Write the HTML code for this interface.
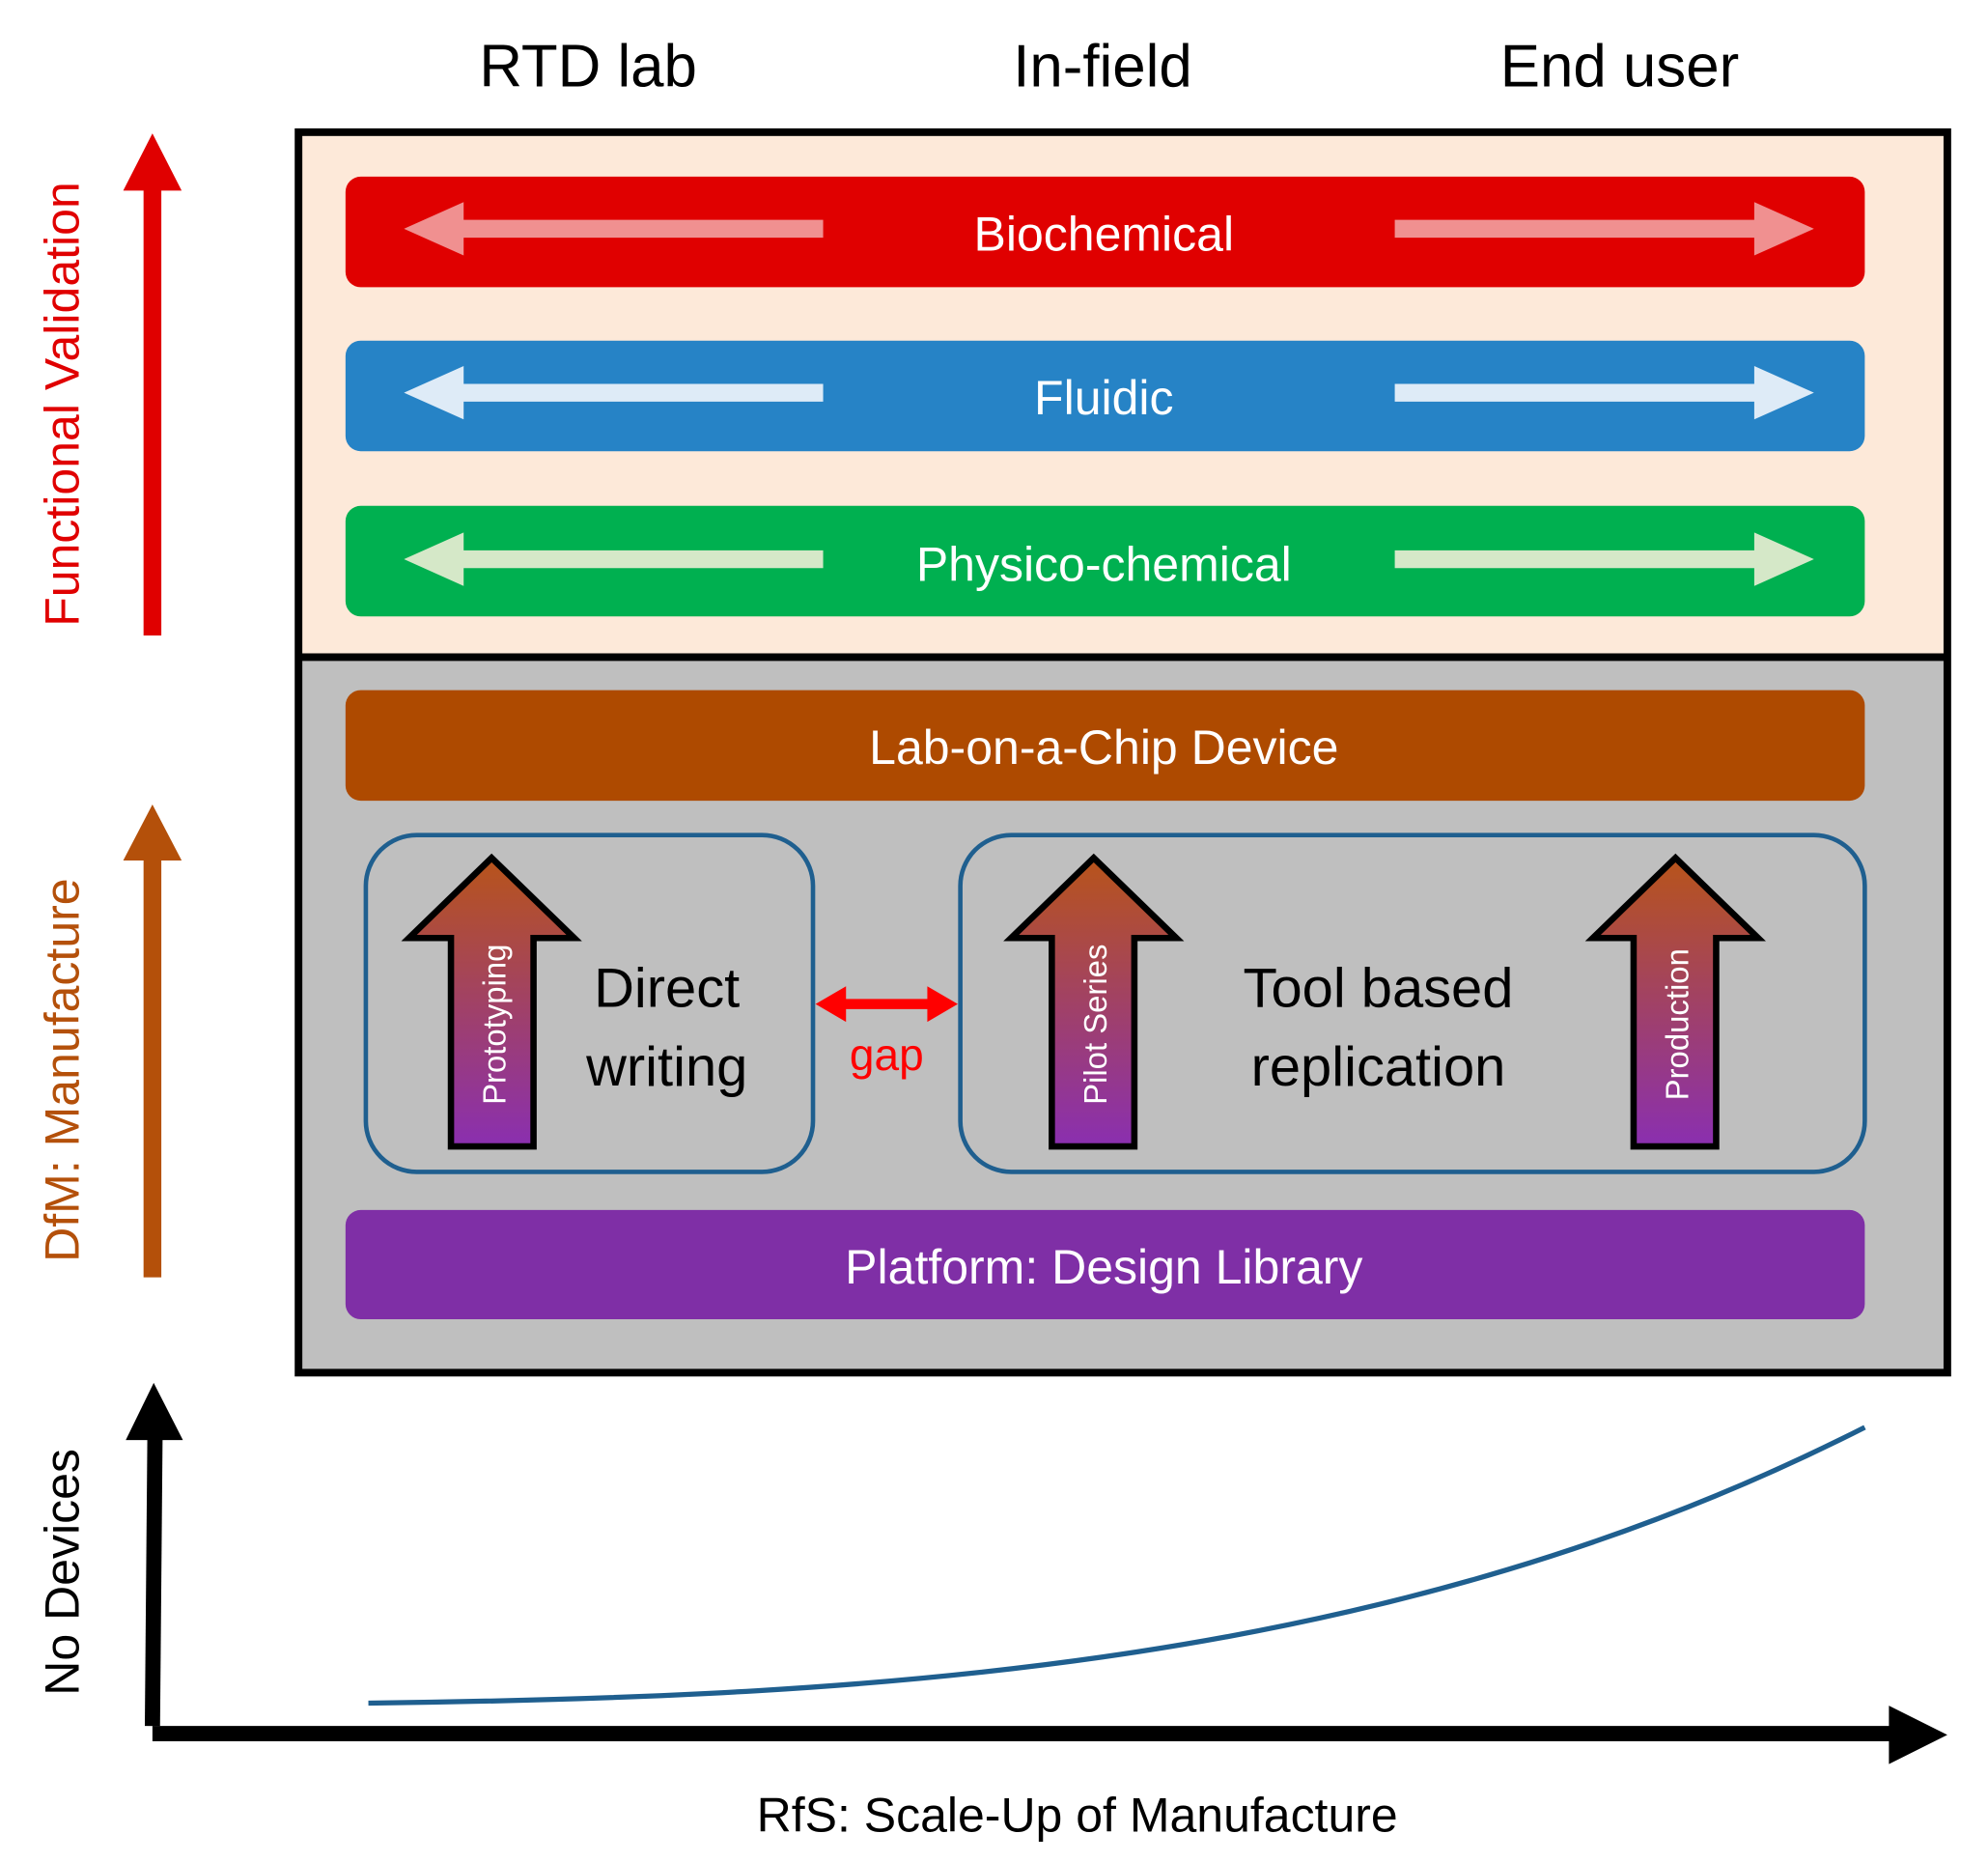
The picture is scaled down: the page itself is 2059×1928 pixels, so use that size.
<!DOCTYPE html>
<html><head><meta charset="utf-8"><style>
html,body{margin:0;padding:0;background:#fff;}
svg{display:block;}
text{font-family:"Liberation Sans",sans-serif;}
</style></head><body>
<svg width="2059" height="1928" viewBox="0 0 1565 1465" preserveAspectRatio="none" xmlns="http://www.w3.org/2000/svg">
<defs>
<linearGradient id="g" x1="0" y1="0" x2="0" y2="1">
<stop offset="0" stop-color="#b8541a"/><stop offset="1" stop-color="#8a2fb0"/>
</linearGradient>
</defs>
<g font-size="47" fill="#000" text-anchor="middle">
<text x="463" y="68">RTD lab</text>
<text x="868" y="68">In-field</text>
<text x="1275" y="68">End user</text>
</g>
<rect x="235" y="104" width="1298" height="413" fill="#fde9d9"/>
<rect x="235" y="517" width="1298" height="563" fill="#bfbfbf"/>
<rect x="235" y="104" width="1298" height="976" fill="none" stroke="#000" stroke-width="6"/>
<line x1="235" y1="517" x2="1533" y2="517" stroke="#000" stroke-width="6"/>
<rect x="272" y="139" width="1196" height="87" rx="12" fill="#e00000"/>
<rect x="272" y="268" width="1196" height="87" rx="12" fill="#2683c6"/>
<rect x="272" y="398" width="1196" height="87" rx="12" fill="#00b050"/>
<rect x="272" y="543" width="1196" height="87" rx="12" fill="#ae4a00"/>
<rect x="272" y="952" width="1196" height="86" rx="12" fill="#7f2fa6"/>
<g>
<path d="M648,173 L365,173 L365,159 L318,180 L365,201 L365,187 L648,187 Z" fill="#f09090"/>
<path d="M1098,173 L1381,173 L1381,159 L1428,180 L1381,201 L1381,187 L1098,187 Z" fill="#f09090"/>
<path d="M648,302 L365,302 L365,288 L318,309 L365,330 L365,316 L648,316 Z" fill="#deebf7"/>
<path d="M1098,302 L1381,302 L1381,288 L1428,309 L1381,330 L1381,316 L1098,316 Z" fill="#deebf7"/>
<path d="M648,433 L365,433 L365,419 L318,440 L365,461 L365,447 L648,447 Z" fill="#d5e8c8"/>
<path d="M1098,433 L1381,433 L1381,419 L1428,440 L1381,461 L1381,447 L1098,447 Z" fill="#d5e8c8"/>
</g>
<g font-size="38" fill="#fff" text-anchor="middle">
<text x="869" y="197">Biochemical</text>
<text x="869" y="326">Fluidic</text>
<text x="869" y="457">Physico-chemical</text>
<text x="869" y="601">Lab-on-a-Chip Device</text>
<text x="869" y="1010">Platform: Design Library</text>
</g>
<rect x="288" y="657" width="352" height="265" rx="40" fill="none" stroke="#1f5f8f" stroke-width="3.5"/>
<rect x="756" y="657" width="712" height="265" rx="40" fill="none" stroke="#1f5f8f" stroke-width="3.5"/>
<path d="M355,902 L355,738 L322,738 L387,675 L452,738 L420,738 L420,902 Z" fill="url(#g)" stroke="#000" stroke-width="5"/>
<path d="M828,902 L828,738 L796,738 L861,675 L926,738 L893,738 L893,902 Z" fill="url(#g)" stroke="#000" stroke-width="5"/>
<path d="M1286,902 L1286,738 L1254,738 L1319,675 L1384,738 L1351,738 L1351,902 Z" fill="url(#g)" stroke="#000" stroke-width="5"/>
<g font-size="25" fill="#fff" text-anchor="middle">
<text transform="translate(398,806) rotate(-90)">Prototyping</text>
<text transform="translate(871,806) rotate(-90)">Pilot Series</text>
<text transform="translate(1329,806) rotate(-90)">Production</text>
</g>
<g font-size="44" fill="#000" text-anchor="middle">
<text x="525" y="792">Direct</text>
<text x="525" y="854">writing</text>
<text x="1085" y="792">Tool based</text>
<text x="1085" y="854">replication</text>
</g>
<path d="M642,790 L666,776 L666,786 L730,786 L730,776 L754,790 L730,804 L730,794 L666,794 L666,804 Z" fill="#ff0000"/>
<text x="698" y="842" font-size="35" fill="#ff0000" text-anchor="middle">gap</text>
<rect x="113" y="148" width="14" height="352" fill="#e00000"/>
<path d="M97,150 L120,105 L143,150 Z" fill="#e00000"/>
<rect x="113" y="675" width="14" height="330" fill="#b4500a"/>
<path d="M97,677 L120,633 L143,677 Z" fill="#b4500a"/>
<line x1="120" y1="1358" x2="122" y2="1130" stroke="#000" stroke-width="12"/>
<path d="M99,1133 L121,1088 L144,1133 Z" fill="#000"/>
<line x1="120" y1="1364" x2="1490" y2="1364" stroke="#000" stroke-width="12"/>
<path d="M1487,1342 L1533,1365 L1487,1388 Z" fill="#000"/>
<path d="M290,1340 C700,1335 1100,1310 1468,1123" fill="none" stroke="#1f5f8f" stroke-width="4"/>
<text transform="translate(62,318) rotate(-90)" font-size="38" fill="#e00000" text-anchor="middle">Functional Validation</text>
<text transform="translate(62,842) rotate(-90)" font-size="38" fill="#b4500a" text-anchor="middle">DfM: Manufacture</text>
<text transform="translate(62,1237) rotate(-90)" font-size="38" fill="#000" text-anchor="middle">No Devices</text>
<text x="848" y="1441" font-size="38" fill="#000" text-anchor="middle">RfS: Scale-Up of Manufacture</text>
</svg>
</body></html>
